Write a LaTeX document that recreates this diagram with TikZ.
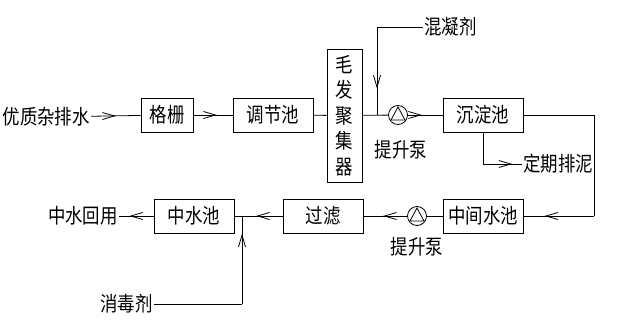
\documentclass[tikz,border=0pt]{standalone}
\usepackage{fontspec}
\newfontfamily\cjk[FakeStretch=0.85]{Noto Sans CJK SC}
\usetikzlibrary{arrows.meta,calc,decorations.markings}

\tikzset{
  unit/.style={draw, line width=0.8pt, minimum height=34pt, inner sep=0pt, font=\cjk\fontsize{20.5}{22}\selectfont},
  label/.style={inner sep=1pt, font=\cjk\fontsize{20.5}{22}\selectfont},
  pump/.style={draw, line width=0.8pt, circle, minimum size=19pt, inner sep=0pt},
  flow/.style={decoration={markings, mark=at position #1 with {\arrow{Straight Barb[length=12pt,width=7pt,line width=0.8pt]}}}, postaction={decorate}},
  flow/.default=0.5,
  pipe/.style={line width=0.8pt}
}

\begin{document}
\begin{tikzpicture}[x=1pt, y=-1pt]
    \useasboundingbox (0,0) rectangle (618,332);

    % upper row
    \node[label, anchor=east] (inflow) at (91,117) {优质杂排水};
    \node[unit, minimum width=52pt] (grid) at (167,115) {格栅};
    \node[unit, minimum width=80pt] (tank) at (273,115) {调节池};
    \node[unit, minimum width=35pt, minimum height=133pt, align=center, font=\cjk\fontsize{20.5}{25.5}\selectfont] (hair) at (344.5,115.5) {毛\\发\\聚\\集\\器};
    \node[pump] (pumpA) at (398,115) {};
    \node[label] (pumpAtxt) at (401,150) {提升泵};
    \node[unit, minimum width=80pt] (settle) at (483,115) {沉淀池};
    \node[label, anchor=west] (coag) at (423,27) {混凝剂};
    \node[label, anchor=west] (sludge) at (522,164) {定期排泥};

    % lower row
    \node[unit, minimum width=80pt] (inter) at (483,216) {中间水池};
    \node[pump] (pumpB) at (417,216) {};
    \node[label] (pumpBtxt) at (417,247) {提升泵};
    \node[unit, minimum width=80pt] (filter) at (323,216) {过滤};
    \node[unit, minimum width=80pt] (reuse) at (194,216) {中水池};
    \node[label, anchor=east] (out) at (119,216) {中水回用};
    \node[label, anchor=east] (disinf) at (154,304) {消毒剂};

    % pump triangles
    \draw[pipe] ($(pumpA)+(0,-8)$) -- ($(pumpA)+(7,5)$) -- ($(pumpA)+(-7,5)$) -- cycle;
    \draw[pipe] ($(pumpB)+(0,-8)$) -- ($(pumpB)+(7,5)$) -- ($(pumpB)+(-7,5)$) -- cycle;

    \coordinate (jA) at (377,115);
    \coordinate (coagC) at (377,27);
    \coordinate (rtop) at (594,115);
    \coordinate (rbot) at (594,216);
    \coordinate (sludgeC) at (483,164);
    \coordinate (jB) at (242,216);
    \coordinate (disC) at (242,304);

    % connections
    \draw[pipe, flow] (inflow) -- (grid);
    \draw[pipe, flow=0.6] (grid) -- (tank);
    \draw[pipe] (tank) -- (hair);
    \draw[pipe] (hair) -- (pumpA);
    \draw[pipe, flow=0.4] (pumpA) -- (settle);
    \draw[pipe] (coag.west) -- (coagC);
    \draw[pipe, flow=0.7] (coagC) -- (jA);
    \draw[pipe] (settle.south) -- (sludgeC);
    \draw[pipe, flow=0.75] (sludgeC) -- (sludge.west);
    \draw[pipe] (settle.east) -- (rtop) -- (rbot);
    \draw[pipe, flow=0.7] (rbot) -- (inter.east);
    \draw[pipe] (inter) -- (pumpB);
    \draw[pipe, flow=0.55] (pumpB) -- (filter);
    \draw[pipe, flow=0.55] (filter) -- (reuse);
    \draw[pipe] (disinf.east) -- (disC);
    \draw[pipe, flow=0.8] (disC) -- (jB);
    \draw[pipe, flow=0.7] (reuse) -- (out);
\end{tikzpicture}
\end{document}
